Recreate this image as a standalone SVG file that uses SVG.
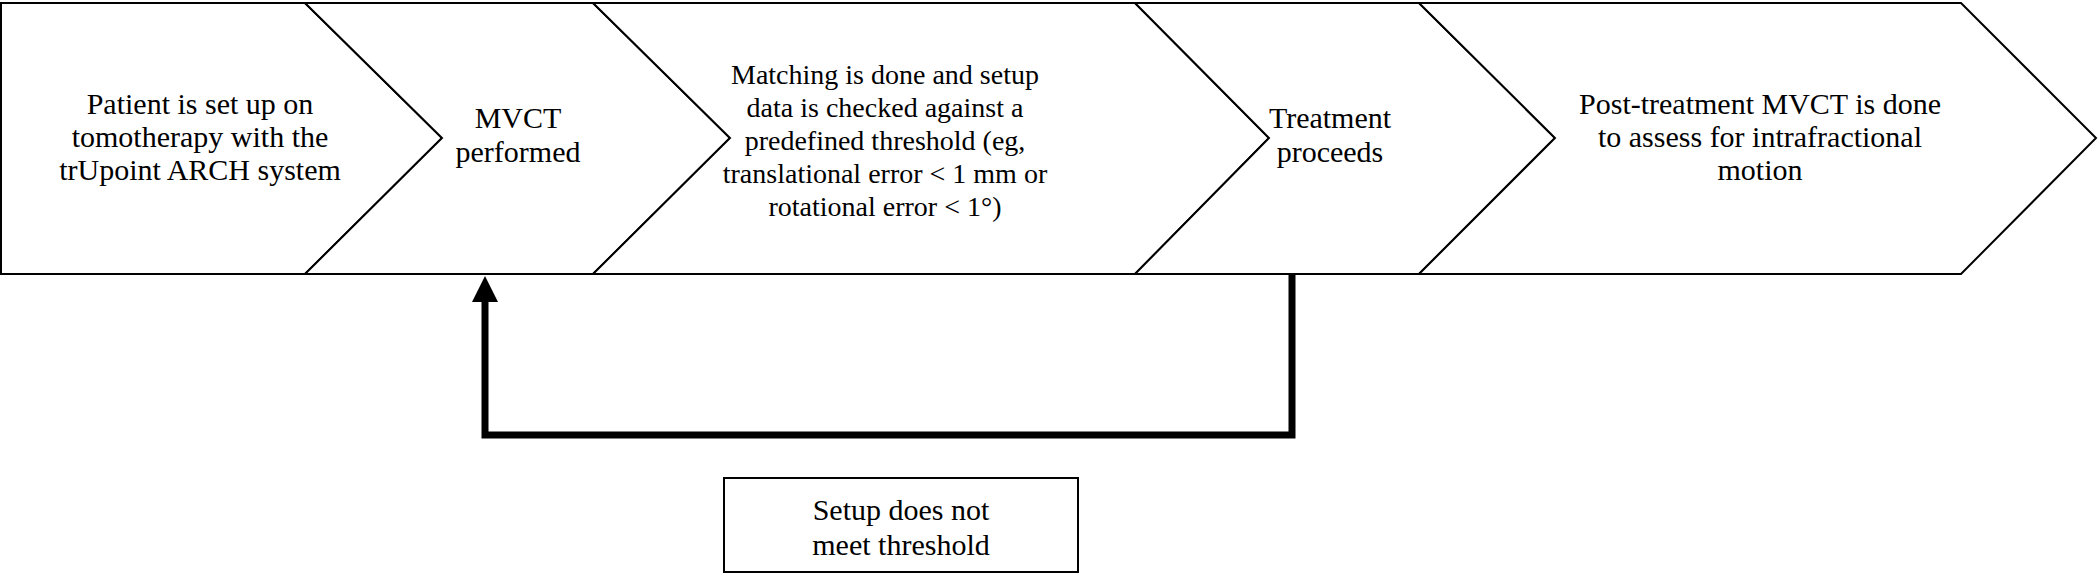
<svg xmlns="http://www.w3.org/2000/svg" width="2099" height="577" viewBox="0 0 2099 577">
<defs>
<style>
.s{fill:#fff;stroke:#000;stroke-width:2}
text{font-family:"Liberation Serif","Times New Roman",serif;font-size:30px;text-anchor:middle;fill:#000}
.m{font-size:28px}
.c{fill:none;stroke:#000;stroke-width:7}
</style>
</defs>
<rect width="2099" height="577" fill="#fff"/>
<g id="n1"><polygon class="s" points="1,3 305,3 442,138 305,274 1,274"/>
<text x="200" y="114">Patient is set up on</text><text x="200" y="147">tomotherapy with the</text><text x="200" y="180">trUpoint ARCH system</text></g>
<g id="n2"><polygon class="s" points="305,3 593,3 730,138 593,274 305,274 442,138"/>
<text x="518" y="128">MVCT</text><text x="518" y="162">performed</text></g>
<g id="n3"><polygon class="s" points="593,3 1135,3 1269,138 1135,274 593,274 730,138"/>
<text class="m" x="885" y="84">Matching is done and setup</text><text class="m" x="885" y="117">data is checked against a</text><text class="m" x="885" y="150">predefined threshold (eg,</text><text class="m" x="885" y="183">translational error &lt; 1 mm or</text><text class="m" x="885" y="216">rotational error &lt; 1°)</text></g>
<g id="n4"><polygon class="s" points="1135,3 1419,3 1555,138 1419,274 1135,274 1269,138"/>
<text x="1330" y="128">Treatment</text><text x="1330" y="162">proceeds</text></g>
<g id="n5"><polygon class="s" points="1419,3 1961,3 2096,138 1961,274 1419,274 1555,138"/>
<text x="1760" y="114">Post-treatment MVCT is done</text><text x="1760" y="147">to assess for intrafractional</text><text x="1760" y="180">motion</text></g>
<g id="connectors"><polyline class="c" points="1292,274 1292,435 485,435 485,298"/>
<polygon points="472,302 485,276 498,302" fill="#000"/></g>
<g id="label"><rect x="724" y="478" width="354" height="94" fill="#fff" stroke="#000" stroke-width="2"/>
<text x="901" y="520">Setup does not</text><text x="901" y="555">meet threshold</text></g>
</svg>
